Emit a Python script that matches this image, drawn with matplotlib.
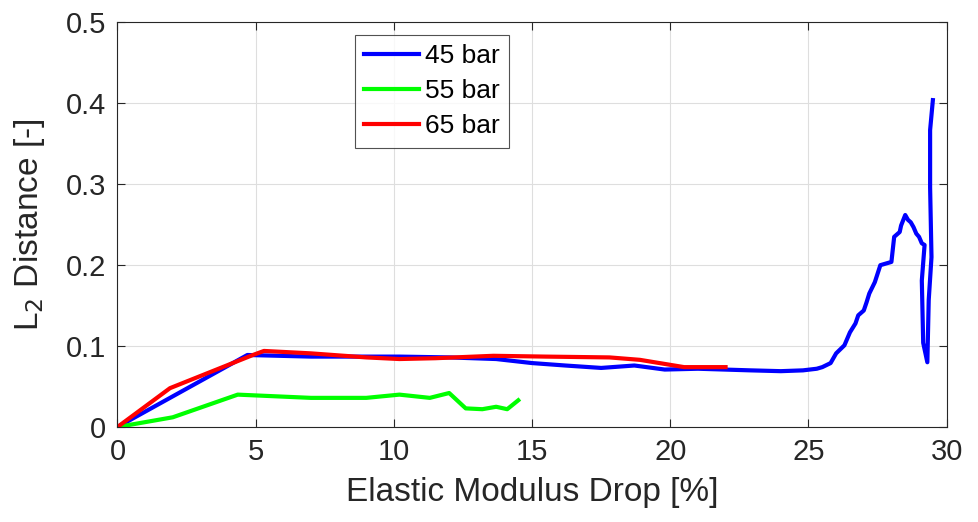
import matplotlib
matplotlib.use("Agg")
import matplotlib.pyplot as plt

plt.rcParams['font.family'] = ['Liberation Sans', 'DejaVu Sans']

# 45 bar
x45 = [0, 4.7, 7.0, 10.2, 12.0, 13.7, 15.0, 16.2, 17.5, 18.7, 19.8, 21.0, 22.9, 24.0, 24.8, 25.3, 25.5,
       25.8, 26.0, 26.3, 26.5, 26.7, 26.8, 27.0, 27.1, 27.2, 27.4, 27.6, 28.0, 28.1, 28.3, 28.35, 28.5,
       28.6, 28.7, 28.8, 28.9, 29.0, 29.1, 29.2, 29.1, 29.15, 29.3, 29.35, 29.45, 29.4, 29.4, 29.5]
y45 = [0, 0.089, 0.087, 0.087, 0.086, 0.084, 0.079, 0.076, 0.073, 0.076, 0.071, 0.072, 0.070, 0.069, 0.070, 0.072, 0.074,
       0.079, 0.091, 0.101, 0.117, 0.128, 0.138, 0.144, 0.154, 0.165, 0.179, 0.200, 0.204, 0.235, 0.241, 0.249, 0.262,
       0.256, 0.253, 0.247, 0.239, 0.235, 0.227, 0.225, 0.181, 0.104, 0.080, 0.157, 0.210, 0.296, 0.367, 0.404]

# 55 bar
x55 = [0, 2.0, 4.35, 7.0, 9.0, 10.2, 11.3, 12.0, 12.6, 13.2, 13.7, 14.1, 14.5]
y55 = [0, 0.012, 0.040, 0.036, 0.036, 0.040, 0.036, 0.042, 0.023, 0.022, 0.025, 0.022, 0.033]

# 65 bar
x65 = [0, 1.9, 4.9, 5.3, 7.0, 9.0, 10.2, 11.5, 13.6, 15.5, 17.8, 18.9, 20.5, 22.0]
y65 = [0, 0.048, 0.089, 0.094, 0.091, 0.086, 0.084, 0.085, 0.088, 0.087, 0.086, 0.083, 0.074, 0.074]

labels = ['45 bar', '55 bar', '65 bar']
colors = ['#0000ff', '#00ff00', '#ff0000']

fig = plt.figure(figsize=(9.79, 5.22), dpi=100)
ax = fig.add_axes([0.120, 0.182, 0.847, 0.775])

for xs, ys, lab, c in zip([x45, x55, x65], [y45, y55, y65], labels, colors):
    ax.plot(xs, ys, color=c, lw=3, label=lab, solid_joinstyle='round')

ax.set_xlim(0, 30)
ax.set_ylim(0, 0.5)
ax.set_xticks([0, 5, 10, 15, 20, 25, 30])
ax.set_yticks([0, 0.1, 0.2, 0.3, 0.4, 0.5])
ax.set_xticklabels(['0', '5', '10', '15', '20', '25', '30'])
ax.set_yticklabels(['0', '0.1', '0.2', '0.3', '0.4', '0.5'])
ax.grid(True, color='#dedede', lw=0.8)
ax.set_axisbelow(True)
ax.tick_params(direction='in', length=6, width=0.8, colors='#262626', labelsize=21,
               top=True, right=True, labelcolor='#262626', pad=8)
for s in ax.spines.values():
    s.set_color('#262626')
    s.set_linewidth(0.8)

ax.set_xlabel('Elastic Modulus Drop [%]', fontsize=24, color='#262626', labelpad=8)
ax.set_ylabel('L$_2$ Distance [-]', fontsize=24, color='#262626', labelpad=14)

leg = ax.legend(loc='upper left', bbox_to_anchor=(0.286, 0.969), fontsize=19, frameon=True,
                fancybox=False, edgecolor='#262626', handlelength=2.1, handletextpad=0.2,
                borderpad=0.35, labelspacing=0.42, borderaxespad=0)
leg.get_frame().set_linewidth(0.8)

fig.savefig('out.png', dpi=100)
